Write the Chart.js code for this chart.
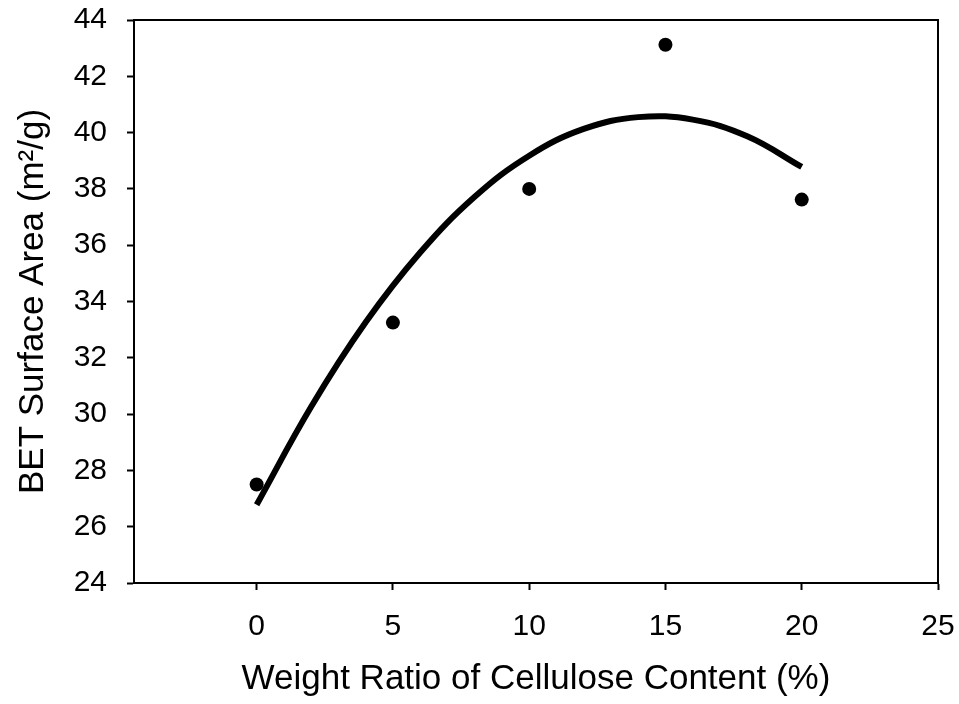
<!DOCTYPE html>
<html>
<head>
<meta charset="utf-8">
<script src="https://cdn.jsdelivr.net/npm/chart.js@4.4.1/dist/chart.umd.min.js"></script>
<style>
    html, body { margin: 0; padding: 0; background: #fff; }
    #wrap { width: 959px; height: 704px; position: relative; }
</style>
</head>
<body>
<div id="wrap"><canvas id="betChart"></canvas></div>
<script>
// measured BET surface area per cellulose loading
const cellulose = [0, 5, 10, 15, 20];
const surfaceArea = [27.5, 33.25, 38.0, 43.12, 37.62];

// quadratic trend line, sampled along the fitted curve
const fitX = [0, 2, 4, 6, 8, 10, 12, 14, 16, 18, 20];
const fitY = [26.78, 30.26, 33.26, 35.74, 37.72, 39.18, 40.13, 40.55, 40.46, 39.87, 38.78];

const xTicks = [0, 5, 10, 15, 20, 25];
const yTicks = [24, 26, 28, 30, 32, 34, 36, 38, 40, 42, 44];

const fontFamily = 'Arial, "Liberation Sans", sans-serif';

// box around the plot area (top and right edges too)
const frame = {
    id: 'frame',
    afterDatasetsDraw(chart) {
        const { ctx, chartArea: a } = chart;
        ctx.save();
        ctx.strokeStyle = '#000';
        ctx.lineWidth = 2;
        ctx.strokeRect(a.left, a.top, a.right - a.left, a.bottom - a.top);
        ctx.restore();
    }
};

document.addEventListener('DOMContentLoaded', () => {
    const ctx = document.getElementById('betChart').getContext('2d');

    new Chart(ctx, {
        type: 'scatter',
        data: {
            datasets: [{
                label: 'fit',
                data: fitX.map((x, i) => ({ x: x, y: fitY[i] })),
                showLine: true,
                borderColor: '#000',
                borderWidth: 6,
                tension: 0.4,
                pointRadius: 0,
                fill: false,
            }, {
                label: 'BET',
                data: cellulose.map((x, i) => ({ x: x, y: surfaceArea[i] })),
                showLine: false,
                backgroundColor: '#000',
                borderColor: '#000',
                pointRadius: 7,
                pointBorderWidth: 0,
            }]
        },
        options: {
            responsive: true,
            maintainAspectRatio: false,
            animation: false,
            layout: {
                padding: { top: 20, right: 21, bottom: 0, left: 0 }
            },
            plugins: {
                legend: { display: false },
                tooltip: { enabled: false },
            },
            scales: {
                x: {
                    type: 'linear',
                    min: -4.5,
                    max: 25,
                    afterBuildTicks: (scale) => {
                        scale.ticks = xTicks.map(v => ({ value: v }));
                    },
                    afterFit: (scale) => {
                        scale.height = 121;
                        scale.paddingLeft = 0;
                        scale.paddingRight = 0;
                    },
                    border: { display: true, color: '#000', width: 2 },
                    grid: {
                        drawOnChartArea: false,
                        drawTicks: true,
                        tickLength: 7,
                        tickWidth: 2,
                        tickColor: '#000',
                    },
                    ticks: {
                        color: '#000',
                        padding: 19,
                        font: { family: fontFamily, size: 30 },
                    },
                    title: {
                        display: true,
                        text: 'Weight Ratio of Cellulose Content (%)',
                        color: '#000',
                        padding: { top: 10 },
                        font: { family: fontFamily, size: 35 },
                    }
                },
                y: {
                    min: 24,
                    max: 44,
                    afterBuildTicks: (scale) => {
                        scale.ticks = yTicks.map(v => ({ value: v }));
                    },
                    afterFit: (scale) => {
                        scale.width = 134;
                        scale.paddingTop = 0;
                        scale.paddingBottom = 0;
                    },
                    border: { display: true, color: '#000', width: 2 },
                    grid: {
                        drawOnChartArea: false,
                        drawTicks: true,
                        tickLength: 7,
                        tickWidth: 2,
                        tickColor: '#000',
                    },
                    ticks: {
                        color: '#000',
                        padding: 20,
                        font: { family: fontFamily, size: 30 },
                    },
                    title: {
                        display: true,
                        text: 'BET Surface Area (m²/g)',
                        color: '#000',
                        padding: { top: 12, bottom: 0 },
                        font: { family: fontFamily, size: 35 },
                    }
                }
            }
        },
        plugins: [frame]
    });
});
</script>
</body>
</html>
